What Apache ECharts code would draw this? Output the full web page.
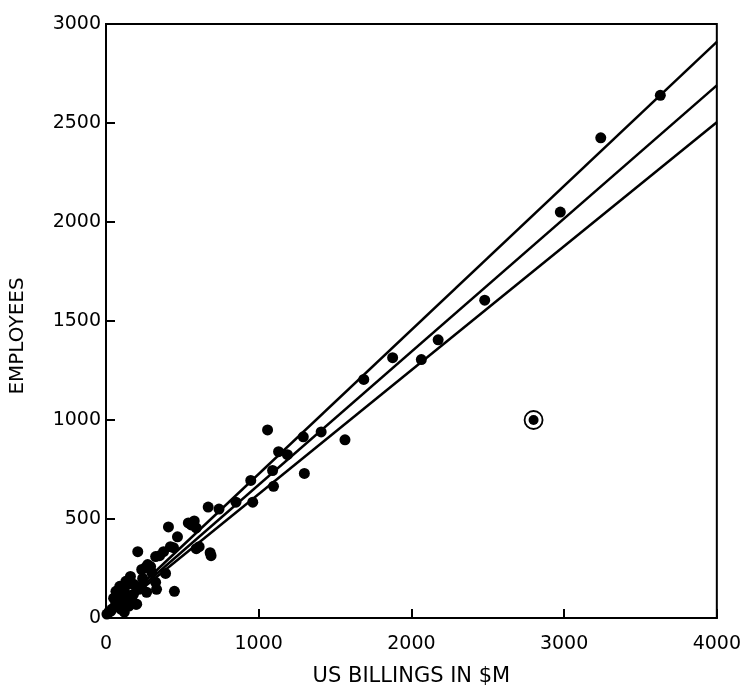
<!DOCTYPE html>
<html>
<head>
<meta charset="utf-8">
<script src="https://cdn.jsdelivr.net/npm/echarts@6/dist/echarts.min.js"></script>
<style>
  html, body { margin: 0; padding: 0; background: #fff; }
  #chart { width: 744px; height: 692px; }
</style>
</head>
<body>
<div id="chart"></div>
<script>
// US billings ($M) vs employees
const billings = [
  3630, 3240, 2975, 2480, 2175, 2065, 1877, 1688, 1565, 1409,
  1292, 1299, 1058, 1130, 1188, 1091, 1097, 948, 961, 851,
  740, 669, 688, 578, 558, 591, 409, 468, 591, 422,
  377, 208, 325, 273, 234, 390, 325, 331, 448, 266,
  214, 182, 130, 65, 84, 169, 195, 97, 39, 19,
  351, 442, 260, 292, 136, 104, 71, 65, 149, 201,
  32, 6, 610, 682, 539, 160, 240, 300,
  50, 110, 120, 90, 180, 230, 150, 60, 120
];
const employees = [
  2640, 2425, 2050, 1605, 1405, 1305, 1315, 1205, 900, 940,
  915, 730, 950, 840, 825, 745, 665, 695, 585, 585,
  550, 560, 315, 490, 470, 455, 460, 410, 350, 360,
  335, 335, 310, 270, 245, 225, 180, 145, 135, 130,
  145, 170, 185, 135, 85, 80, 70, 45, 45, 30,
  315, 355, 255, 260, 170, 155, 120, 80, 105, 70,
  35, 20, 360, 330, 480, 210, 200, 230,
  100, 110, 140, 160, 120, 160, 60, 60, 30
];

// the outlier that is ringed in the original
const outlier = [2800, 1000];

// three fitted lines through the origin: employees per $M billed
const slopes = [0.7275, 0.6725, 0.626];

const xTicks = [0, 1000, 2000, 3000, 4000];
const yTicks = [0, 500, 1000, 1500, 2000, 2500, 3000];

const points = billings.map((b, i) => [b, employees[i]]);
const xMax = xTicks[xTicks.length - 1];

const font = 'DejaVu Sans';

const chart = echarts.init(document.getElementById('chart'));

const lineSeries = slopes.map(k => ({
  type: 'line',
  data: [[0, 0], [xMax, k * xMax]],
  showSymbol: false,
  symbol: 'none',
  lineStyle: { color: '#000', width: 2.5 },
  silent: true,
  z: 2,
}));

chart.setOption({
  animation: false,
  backgroundColor: '#fff',
  grid: {
    left: 102,
    right: 26,
    top: 24,
    bottom: 68,
    show: true,
    borderColor: '#000',
    borderWidth: 2,
  },
  xAxis: {
    type: 'value',
    min: 0,
    max: xMax,
    interval: 1000,
    name: 'US BILLINGS IN $M',
    nameLocation: 'middle',
    nameGap: 48,
    nameTextStyle: { color: '#000', fontFamily: font, fontSize: 21 },
    axisLine: { show: true, lineStyle: { color: '#000', width: 2 } },
    axisTick: { show: true, inside: true, length: 9, lineStyle: { color: '#000', width: 2 } },
    axisLabel: { color: '#000', fontFamily: font, fontSize: 19, margin: 17, formatter: v => String(v) },
    splitLine: { show: false },
  },
  yAxis: {
    type: 'value',
    min: 0,
    max: yTicks[yTicks.length - 1],
    interval: 500,
    name: 'EMPLOYEES',
    nameLocation: 'middle',
    nameGap: 78,
    nameTextStyle: { color: '#000', fontFamily: font, fontSize: 20, padding: [0, 0, 0, -30] },
    axisLine: { show: true, lineStyle: { color: '#000', width: 2 } },
    axisTick: { show: true, inside: true, length: 9, lineStyle: { color: '#000', width: 2 } },
    axisLabel: { color: '#000', fontFamily: font, fontSize: 19, margin: 5, formatter: v => String(v) },
    splitLine: { show: false },
  },
  series: [
    ...lineSeries,
    {
      type: 'scatter',
      data: points,
      symbol: 'circle',
      symbolSize: 11,
      itemStyle: { color: '#000', opacity: 1 },
      z: 3,
    },
    {
      type: 'scatter',
      data: [outlier],
      symbol: 'circle',
      symbolSize: 18,
      itemStyle: { color: 'rgba(0,0,0,0)', borderColor: '#000', borderWidth: 1.8, opacity: 1 },
      z: 4,
    },
    {
      type: 'scatter',
      data: [outlier],
      symbol: 'circle',
      symbolSize: 10,
      itemStyle: { color: '#000', opacity: 1 },
      z: 5,
    },
  ],
});
</script>
</body>
</html>
